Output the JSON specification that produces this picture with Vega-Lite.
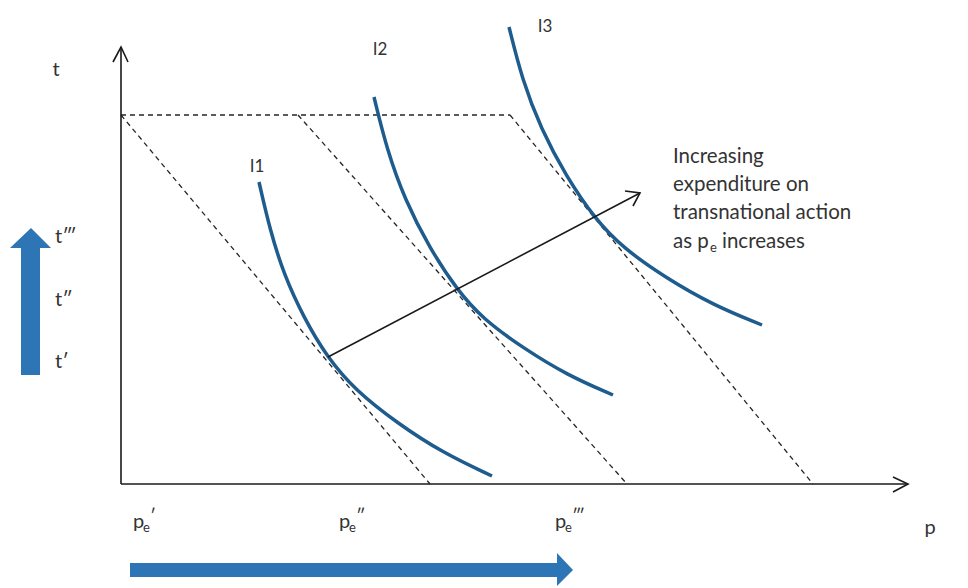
{
  "$schema": "https://vega.github.io/schema/vega-lite/v6.json",
  "width": 968,
  "height": 588,
  "padding": 0,
  "autosize": {"type": "fit", "contains": "padding"},
  "background": "white",
  "config": {"view": {"stroke": null}, "text": {"font": "Lato", "color": "#333333"}},
  "encoding": {
    "x": {"field": "x", "type": "quantitative", "scale": {"domain": [-121, 847], "nice": false, "zero": false}, "axis": null},
    "y": {"field": "y", "type": "quantitative", "scale": {"domain": [-104, 484], "nice": false, "zero": false}, "axis": null}
  },
  "layer": [
    {
      "data": {"values": [
        {"arrow": "t", "x": -100, "x2": -81, "y": 109, "y2": 237},
        {"arrow": "p", "x": 9, "x2": 437, "y": -79, "y2": -93}
      ]},
      "mark": {"type": "rect", "fill": "#2e75b6"},
      "encoding": {"x2": {"field": "x2"}, "y2": {"field": "y2"}}
    },
    {
      "data": {"values": [
        {"x": -111, "y": 236},
        {"x": -90, "y": 256},
        {"x": -70, "y": 236}
      ]},
      "mark": {"type": "area", "orient": "vertical", "fill": "#2e75b6"},
      "encoding": {"y2": {"datum": 236}}
    },
    {
      "data": {"values": [
        {"x": 436, "y": -69},
        {"x": 452, "y": -86},
        {"x": 436, "y": -102}
      ]},
      "mark": {"type": "area", "orient": "horizontal", "fill": "#2e75b6"},
      "encoding": {"x2": {"datum": 436}}
    },
    {
      "data": {"values": [
        {"g": "top", "o": 0, "x": 0, "y": 369},
        {"g": "top", "o": 1, "x": 389, "y": 369},
        {"g": "d1", "o": 0, "x": 0, "y": 369},
        {"g": "d1", "o": 1, "x": 309, "y": 0},
        {"g": "d2", "o": 0, "x": 177, "y": 369},
        {"g": "d2", "o": 1, "x": 506, "y": 0},
        {"g": "d3", "o": 0, "x": 389, "y": 369},
        {"g": "d3", "o": 1, "x": 692, "y": 0}
      ]},
      "mark": {"type": "line", "color": "#262626", "strokeWidth": 1.3, "strokeDash": [5, 4]},
      "encoding": {"detail": {"field": "g"}, "order": {"field": "o"}}
    },
    {
      "data": {"values": [
        {"c": "I1", "x": 138, "y": 302},
        {"c": "I1", "x": 149, "y": 254},
        {"c": "I1", "x": 163, "y": 209},
        {"c": "I1", "x": 183, "y": 166},
        {"c": "I1", "x": 206, "y": 127},
        {"c": "I1", "x": 234, "y": 94},
        {"c": "I1", "x": 276, "y": 61},
        {"c": "I1", "x": 322, "y": 31},
        {"c": "I1", "x": 371, "y": 8},
        {"c": "I2", "x": 253, "y": 387},
        {"c": "I2", "x": 266, "y": 334},
        {"c": "I2", "x": 284, "y": 284},
        {"c": "I2", "x": 308, "y": 237},
        {"c": "I2", "x": 336, "y": 194},
        {"c": "I2", "x": 362, "y": 165},
        {"c": "I2", "x": 402, "y": 136},
        {"c": "I2", "x": 446, "y": 109},
        {"c": "I2", "x": 492, "y": 89},
        {"c": "I3", "x": 388, "y": 457},
        {"c": "I3", "x": 401, "y": 405},
        {"c": "I3", "x": 420, "y": 355},
        {"c": "I3", "x": 445, "y": 308},
        {"c": "I3", "x": 474, "y": 265},
        {"c": "I3", "x": 502, "y": 236},
        {"c": "I3", "x": 545, "y": 206},
        {"c": "I3", "x": 592, "y": 179},
        {"c": "I3", "x": 641, "y": 159}
      ]},
      "mark": {"type": "line", "color": "#1f5c8e", "strokeWidth": 3.5, "interpolate": "basis"},
      "encoding": {"detail": {"field": "c"}}
    },
    {
      "data": {"values": [
        {"g": "yaxis", "o": 0, "x": 0, "y": 0},
        {"g": "yaxis", "o": 1, "x": 0, "y": 437},
        {"g": "xaxis", "o": 0, "x": 0, "y": 0},
        {"g": "xaxis", "o": 1, "x": 787, "y": 0},
        {"g": "yhead", "o": 0, "x": -8, "y": 422},
        {"g": "yhead", "o": 1, "x": 0, "y": 437},
        {"g": "yhead", "o": 2, "x": 7, "y": 422},
        {"g": "xhead", "o": 0, "x": 772, "y": 7},
        {"g": "xhead", "o": 1, "x": 787, "y": 0},
        {"g": "xhead", "o": 2, "x": 772, "y": -8},
        {"g": "expenditure", "o": 0, "x": 207, "y": 127},
        {"g": "expenditure", "o": 1, "x": 519, "y": 291},
        {"g": "ehead", "o": 0, "x": 504, "y": 293},
        {"g": "ehead", "o": 1, "x": 519, "y": 291},
        {"g": "ehead", "o": 2, "x": 512, "y": 278}
      ]},
      "mark": {"type": "line", "color": "#1a1a1a", "strokeWidth": 1.6},
      "encoding": {"detail": {"field": "g"}, "order": {"field": "o"}}
    },
    {
      "data": {"values": [
        {"text": "I1", "x": 136, "y": 317},
        {"text": "I2", "x": 259, "y": 434},
        {"text": "I3", "x": 424, "y": 457}
      ]},
      "mark": {"type": "text", "fontSize": 17, "align": "center", "baseline": "middle"},
      "encoding": {"text": {"field": "text"}}
    },
    {
      "data": {"values": [
        {"text": "t", "x": -65, "y": 414},
        {"text": "p", "x": 809, "y": -44}
      ]},
      "mark": {"type": "text", "fontSize": 20, "align": "center", "baseline": "middle"},
      "encoding": {"text": {"field": "text"}}
    },
    {
      "data": {"values": [
        {"text": "t‴", "x": -66, "y": 247},
        {"text": "t″", "x": -66, "y": 184},
        {"text": "t′", "x": -66, "y": 122}
      ]},
      "mark": {"type": "text", "fontSize": 20, "align": "left", "baseline": "middle"},
      "encoding": {"text": {"field": "text"}}
    },
    {
      "data": {"values": [
        {"text": "Increasing", "x": 552, "y": 327},
        {"text": "expenditure on", "x": 552, "y": 299},
        {"text": "transnational action", "x": 552, "y": 271}
      ]},
      "mark": {"type": "text", "fontSize": 20.5, "align": "left", "baseline": "middle"},
      "encoding": {"text": {"field": "text"}}
    },
    {
      "data": {"values": [{"x": 552, "y": 242}]},
      "layer": [
        {"mark": {"type": "text", "fontSize": 20.5, "align": "left", "baseline": "middle", "text": "as p"}},
        {"mark": {"type": "text", "fontSize": 13, "align": "left", "baseline": "middle", "text": "e", "dx": 37, "dy": 6}},
        {"mark": {"type": "text", "fontSize": 20.5, "align": "left", "baseline": "middle", "text": "increases", "dx": 49}}
      ]
    },
    {
      "data": {"values": [
        {"prime": "′", "x": 12, "y": -38},
        {"prime": "″", "x": 218, "y": -38},
        {"prime": "‴", "x": 434, "y": -38}
      ]},
      "layer": [
        {"mark": {"type": "text", "fontSize": 20, "align": "left", "baseline": "middle", "text": "p"}},
        {"mark": {"type": "text", "fontSize": 13, "align": "left", "baseline": "middle", "text": "e", "dx": 10, "dy": 6}},
        {"mark": {"type": "text", "fontSize": 18, "align": "left", "baseline": "middle", "dx": 17, "dy": -5}, "encoding": {"text": {"field": "prime"}}}
      ]
    }
  ]
}
